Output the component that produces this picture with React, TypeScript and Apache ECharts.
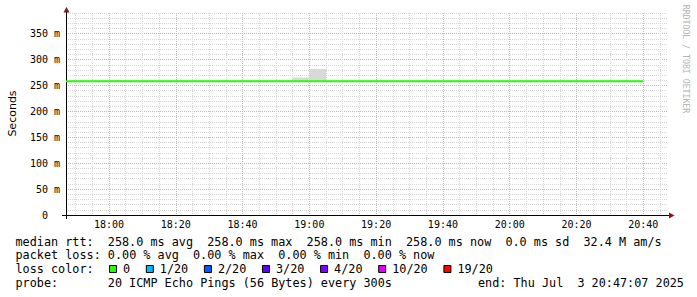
import React, { useEffect, useRef } from "react";
import * as echarts from "echarts";

// ---- data ----
const axisStart = "17:47:07";
const axisEnd = "20:47:07";
const yMin = 0;
const yMax = 390;

const medianTimes = ["17:47:07", "20:40:00"];
const medianValues = [258.0, 258.0];

const smokeStarts = ["18:00", "18:55", "19:00"];
const smokeEnds = ["18:05", "19:00", "19:05"];
const smokeLows = [257, 257, 257];
const smokeHighs = [260.5, 265.5, 282];

const rttLabel = "median rtt:";
const rttStats = ["258.0 ms avg", "258.0 ms max", "258.0 ms min", "258.0 ms now", "0.0 ms sd", "32.4 M am/s"];
const lossLabel = "packet loss:";
const lossStats = ["0.00 % avg", "0.00 % max", "0.00 % min", "0.00 % now"];
const lossColorLabel = "loss color:";
const lossLabels = ["0", "1/20", "2/20", "3/20", "4/20", "10/20", "19/20"];
const lossColors = ["#26ff00", "#00b8ff", "#0059ff", "#5e00ff", "#7e00ff", "#dd00ff", "#ff0000"];
const probeLabel = "probe:";
const probeText = "20 ICMP Echo Pings (56 Bytes) every 300s";
const endText = "end: Thu Jul  3 20:47:07 2025";
const yName = "Seconds";
const watermark = "RRDTOOL / TOBI OETIKER";

// ---- helpers ----
function toMin(t: string): number {
  const p = t.split(":").map(Number);
  return p[0] * 60 + p[1] + (p[2] || 0) / 60;
}
function hhmm(v: number): string {
  const h = Math.floor(v / 60);
  const m = Math.round(v - h * 60);
  return String(h).padStart(2, "0") + ":" + String(m).padStart(2, "0");
}

const MONO = "DejaVu Sans Mono";
const CW = 7.1;
const FS = 11.8;
const X0 = 15.5;
const ROW_Y = [241.6, 255.2, 268.9, 282.6];
const GRID_MINOR = "#d6d6d6";
const GRID_MAJOR = "#eba5a5";

function segments(line: string, x0: number, y: number) {
  const out: any[] = [];
  const re = /\S+(?: \S+)*/g;
  let m: RegExpExecArray | null;
  while ((m = re.exec(line))) {
    out.push({
      type: "text",
      x: x0 + m.index * CW,
      y,
      style: { text: m[0], fill: "#000", fontFamily: MONO, fontSize: FS, verticalAlign: "middle", align: "left" },
    });
  }
  return out;
}

export default function App() {
  const ref = useRef<HTMLDivElement>(null);
  useEffect(() => {
    if (!ref.current) return;
    const chart = echarts.init(ref.current, undefined, { renderer: "svg" });

    const xMin = toMin(axisStart);
    const xMax = toMin(axisEnd);

    const smokeData = smokeStarts.map((s, i) => [toMin(s), toMin(smokeEnds[i]), smokeLows[i], smokeHighs[i]]);
    const medianData = medianTimes.map((t, i) => [toMin(t), medianValues[i]]);

    const graphics: any[] = [];
    graphics.push(...segments(rttLabel + "  " + rttStats.join("  "), X0, ROW_Y[0]));
    graphics.push(...segments(lossLabel + " " + lossStats.join("  "), X0, ROW_Y[1]));
    graphics.push(...segments(lossColorLabel, X0, ROW_Y[2]));
    let bx = 109;
    lossLabels.forEach((lab, i) => {
      graphics.push({
        type: "rect",
        shape: { x: bx + 0.5, y: 265.5, width: 7, height: 7 },
        style: { fill: lossColors[i], stroke: "#000", lineWidth: 1 },
      });
      const lx = bx + 14;
      graphics.push({
        type: "text",
        x: lx,
        y: ROW_Y[2],
        style: { text: lab, fill: "#000", fontFamily: MONO, fontSize: FS, verticalAlign: "middle", align: "left" },
      });
      bx = lx + lab.length * CW + 15.7;
    });
    graphics.push(...segments(probeLabel + "       " + probeText, X0, ROW_Y[3]));
    graphics.push(...segments(endText, 478, ROW_Y[3]));

    // y-axis name
    graphics.push({
      type: "text",
      x: 12,
      y: 113.5,
      rotation: Math.PI / 2,
      style: { text: yName, fill: "#000", fontFamily: "DejaVu Sans", fontSize: 11, align: "center", verticalAlign: "middle" },
    });
    // watermark
    graphics.push({
      type: "text",
      x: 686,
      y: 59,
      rotation: -Math.PI / 2,
      style: { text: watermark, fill: "#b4b4b4", fontFamily: MONO, fontSize: 8.2, align: "center", verticalAlign: "middle" },
    });
    // axis extensions and arrows
    graphics.push({ type: "line", shape: { x1: 62, y1: 215.5, x2: 669, y2: 215.5 }, style: { stroke: "#000", lineWidth: 1 } });
    graphics.push({ type: "line", shape: { x1: 66.5, y1: 12, x2: 66.5, y2: 219 }, style: { stroke: "#000", lineWidth: 1 } });
    graphics.push({ type: "polygon", shape: { points: [[63.5, 12.5], [69.5, 12.5], [66.5, 7]] }, style: { fill: "#8c1414" } });
    graphics.push({ type: "polygon", shape: { points: [[669, 212.5], [669, 218.5], [674.5, 215.5]] }, style: { fill: "#8c1414" } });

    const option: any = {
      animation: false,
      backgroundColor: "#fff",
      grid: { left: 66, top: 13, width: 601, height: 202, containLabel: false, outerBoundsMode: "none" },
      xAxis: [
        {
          type: "value",
          position: "bottom",
          min: xMin,
          max: xMax,
          splitNumber: 36,
          minInterval: 5,
          maxInterval: 5,
          axisLine: { show: false },
          axisTick: { show: false },
          axisLabel: { show: false },
          splitLine: { show: true, showMinLine: false, showMaxLine: false, lineStyle: { color: GRID_MINOR, width: 1, type: [1, 1] } },
        },
        {
          type: "value",
          position: "bottom",
          min: xMin,
          max: xMax,
          splitNumber: 9,
          minInterval: 20,
          maxInterval: 20,
          axisLine: { show: true, lineStyle: { color: "#000", width: 1 } },
          axisTick: { show: false },
          axisLabel: {
            show: true,
            margin: 4,
            color: "#000",
            fontFamily: MONO,
            fontSize: 10,
            formatter: (v: number) => (Math.abs(v - Math.round(v)) < 1e-6 && Math.round(v) % 20 === 0 ? hhmm(v) : ""),
          },
          splitLine: { show: true, showMinLine: false, showMaxLine: false, lineStyle: { color: GRID_MAJOR, width: 1, type: [1, 1] } },
        },
      ],
      yAxis: [
        {
          type: "value",
          position: "left",
          min: yMin,
          max: yMax,
          interval: 10,
          axisLine: { show: false },
          axisTick: { show: false },
          axisLabel: { show: false },
          splitLine: { show: true, showMinLine: false, lineStyle: { color: GRID_MINOR, width: 1, type: [1, 1] } },
        },
        {
          type: "value",
          position: "left",
          min: yMin,
          max: yMax,
          interval: 50,
          axisLine: { show: true, lineStyle: { color: "#000", width: 1 } },
          axisTick: { show: false },
          axisLabel: {
            show: true,
            margin: 6,
            color: "#000",
            fontFamily: MONO,
            fontSize: 10,
            formatter: (v: number) => (v === 0 ? "0\u00a0\u00a0" : v % 50 === 0 ? v + " m" : ""),
          },
          splitLine: { show: true, showMinLine: false, showMaxLine: false, lineStyle: { color: GRID_MAJOR, width: 1, type: [1, 1] } },
        },
      ],
      series: [
        {
          type: "custom",
          xAxisIndex: 0,
          yAxisIndex: 0,
          z: 3,
          data: smokeData,
          encode: { x: [0, 1], y: [2, 3] },
          renderItem: (params: any, api: any) => {
            const p1 = api.coord([api.value(0), api.value(3)]);
            const p2 = api.coord([api.value(1), api.value(2)]);
            return {
              type: "rect",
              shape: { x: p1[0], y: p1[1], width: p2[0] - p1[0], height: p2[1] - p1[1] },
              style: { fill: "#d9d9d9" },
            };
          },
        },
        {
          type: "line",
          xAxisIndex: 0,
          yAxisIndex: 0,
          z: 4,
          data: medianData,
          symbol: "none",
          lineStyle: { color: "#26ff00", width: 2 },
          silent: true,
        },
      ],
      graphic: graphics,
    };
    chart.setOption(option);
    return () => chart.dispose();
  }, []);

  return (
    <div
      ref={ref}
      style={{ position: "fixed", left: 0, top: 0, width: 697, height: 297, background: "#fff" }}
    />
  );
}
